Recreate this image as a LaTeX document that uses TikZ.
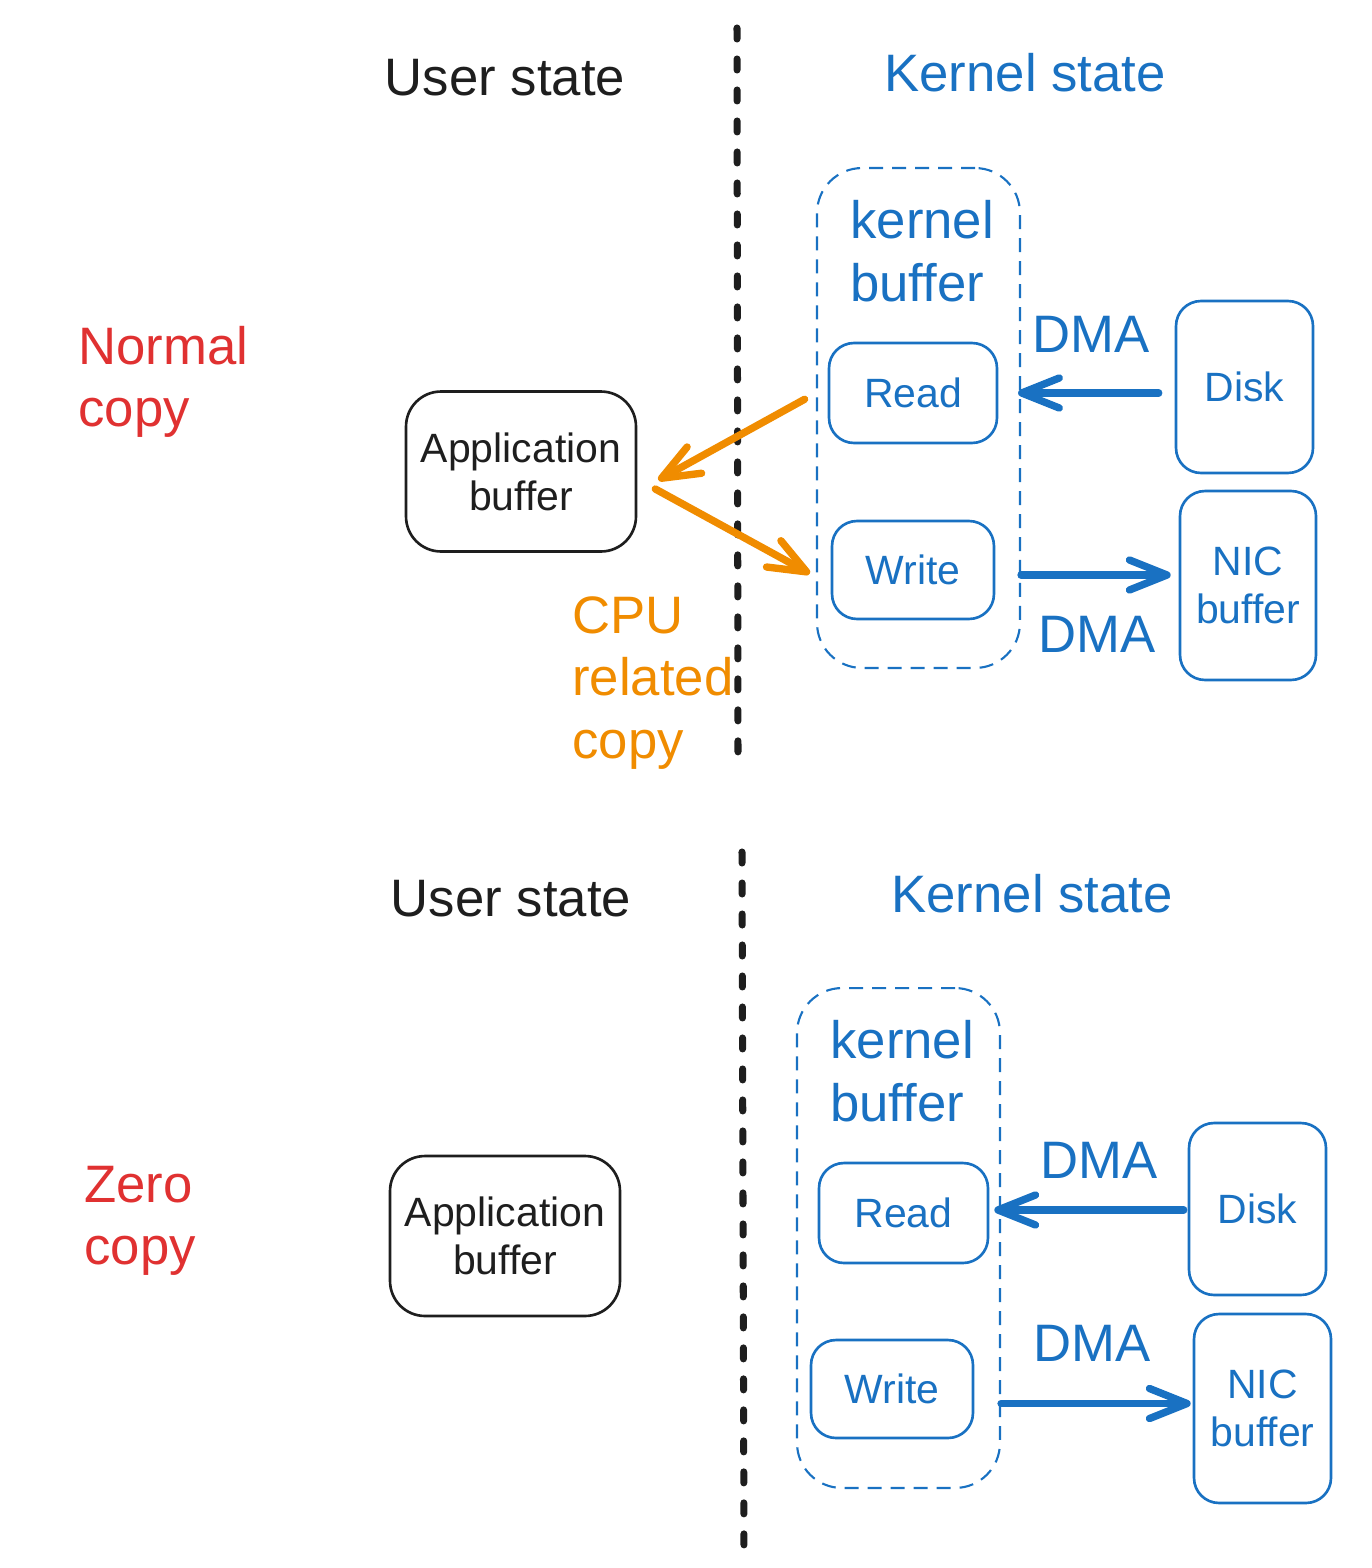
\documentclass[tikz,border=0pt]{standalone}
\usepackage{fontspec}
\setmainfont{Liberation Sans}
\usepackage{xcolor}
\usetikzlibrary{arrows.meta,shapes}

\definecolor{kblue}{HTML}{1971C2}
\definecolor{nred}{HTML}{E03131}
\definecolor{cpuorange}{HTML}{F08C00}
\definecolor{ink}{HTML}{1E1E1E}

\newcommand{\bigfont}{\fontsize{30}{35.5}\selectfont}
\newcommand{\smallfont}{\fontsize{23.3}{27.3}\selectfont}

\begin{document}
\begin{tikzpicture}[x=0.02cm, y=-0.02cm, inner sep=0pt, line join=round]
\tikzstyle{title}=[font=\bigfont]
\tikzstyle{userbox}=[draw=ink, text=ink, line width=1.5pt, rounded corners=0.7cm, align=center, font=\smallfont, minimum width=4.6cm, minimum height=3.2cm]
\tikzstyle{kbox}=[draw=kblue, text=kblue, line width=1.5pt, rounded corners=0.5cm, align=center, font=\smallfont]
\tikzstyle{kbuffer}=[draw=kblue, line width=1.2pt, dash pattern=on 0.28cm off 0.18cm, rounded corners=0.9cm, minimum width=4.06cm, minimum height=10cm]
\tikzstyle{divider}=[ink, line width=4pt, line cap=round, dash pattern=on 0.22cm off 0.4cm]
\tikzstyle{dma}=[kblue, line width=4.2pt, line cap=round, -{Straight Barb[length=0.75cm,width=0.6cm,round]}]
\tikzstyle{cpu}=[cpuorange, line width=4.2pt, line cap=round, -{Straight Barb[length=0.75cm,width=0.6cm,round]}]
\useasboundingbox (0,0) rectangle (1372,1568);

% normal copy
\node[title, text=ink] (user1) at (505,78) {User state};
\node[title, text=kblue] (kernel1) at (1025,73) {Kernel state};
\draw[divider] (737,28) -- (738,762);
\node[title, text=nred, align=left, anchor=west] (normal) at (78,382) {Normal\\copy};
\node[kbuffer] (kbuf1) at (918.5,418) {};
\node[title, text=kblue, align=left, anchor=west] (kbuftext1) at (850,251) {kernel\\buffer};
\node[kbox, minimum width=3.36cm, minimum height=2cm] (read1) at (913,393) {Read};
\node[kbox, minimum width=3.24cm, minimum height=1.96cm] (write1) at (913,570) {Write};
\node[kbox, minimum width=2.74cm, minimum height=3.44cm] (disk1) at (1244.5,387) {Disk};
\node[kbox, minimum width=2.72cm, minimum height=3.78cm] (nic1) at (1248,585.5) {NIC\\buffer};
\node[title, text=kblue] (dmain1) at (1091,334) {DMA};
\node[title, text=kblue] (dmaout1) at (1097,634) {DMA};
\node[userbox] (app1) at (521,471.5) {Application\\buffer};
\node[title, text=cpuorange, align=left, anchor=west] (cpu1) at (572,683) {CPU\\related\\copy};
\path
(read1 -| disk1.west) edge[dma, shorten <=0.32cm] ([xshift=-0.06cm]read1 -| kbuf1.east)
([yshift=-0.1cm]write1 -| kbuf1.east) edge[dma, shorten >=0.16cm] ([yshift=-0.1cm]write1 -| nic1.west)
(read1 -| kbuf1.west) edge[cpu, shorten <=0.26cm] ([xshift=0.42cm, yshift=-0.17cm]app1.east)
([xshift=0.36cm, yshift=-0.35cm]app1.east) edge[cpu, shorten >=0.14cm] ([yshift=-0.14cm]write1 -| kbuf1.west);

% zero copy
\node[title, text=ink] (user2) at (511,899) {User state};
\node[title, text=kblue] (kernel2) at (1032,894) {Kernel state};
\draw[divider] (742,852) -- (744,1555);
\node[title, text=nred, align=left, anchor=west] (zero) at (84,1221) {Zero\\copy};
\node[kbuffer] (kbuf2) at (898.5,1238) {};
\node[title, text=kblue, align=left, anchor=west] (kbuftext2) at (830,1071) {kernel\\buffer};
\node[kbox, minimum width=3.38cm, minimum height=2cm] (read2) at (903.5,1213) {Read};
\node[kbox, minimum width=3.24cm, minimum height=1.96cm] (write2) at (892,1389) {Write};
\node[kbox, minimum width=2.74cm, minimum height=3.44cm] (disk2) at (1257.5,1209) {Disk};
\node[kbox, minimum width=2.74cm, minimum height=3.78cm] (nic2) at (1262.5,1408.5) {NIC\\buffer};
\node[title, text=kblue] (dmain2) at (1099,1160) {DMA};
\node[title, text=kblue] (dmaout2) at (1092,1343) {DMA};
\node[userbox] (app2) at (505,1236) {Application\\buffer};
\path
([yshift=0.06cm]read2 -| disk2.west) edge[dma, shorten <=0.08cm] ([xshift=0.1cm, yshift=0.06cm]read2.east)
([yshift=0.1cm]nic2 -| kbuf2.east) edge[dma, shorten >=0.04cm] ([yshift=0.1cm]nic2.west);
\end{tikzpicture}
\end{document}
